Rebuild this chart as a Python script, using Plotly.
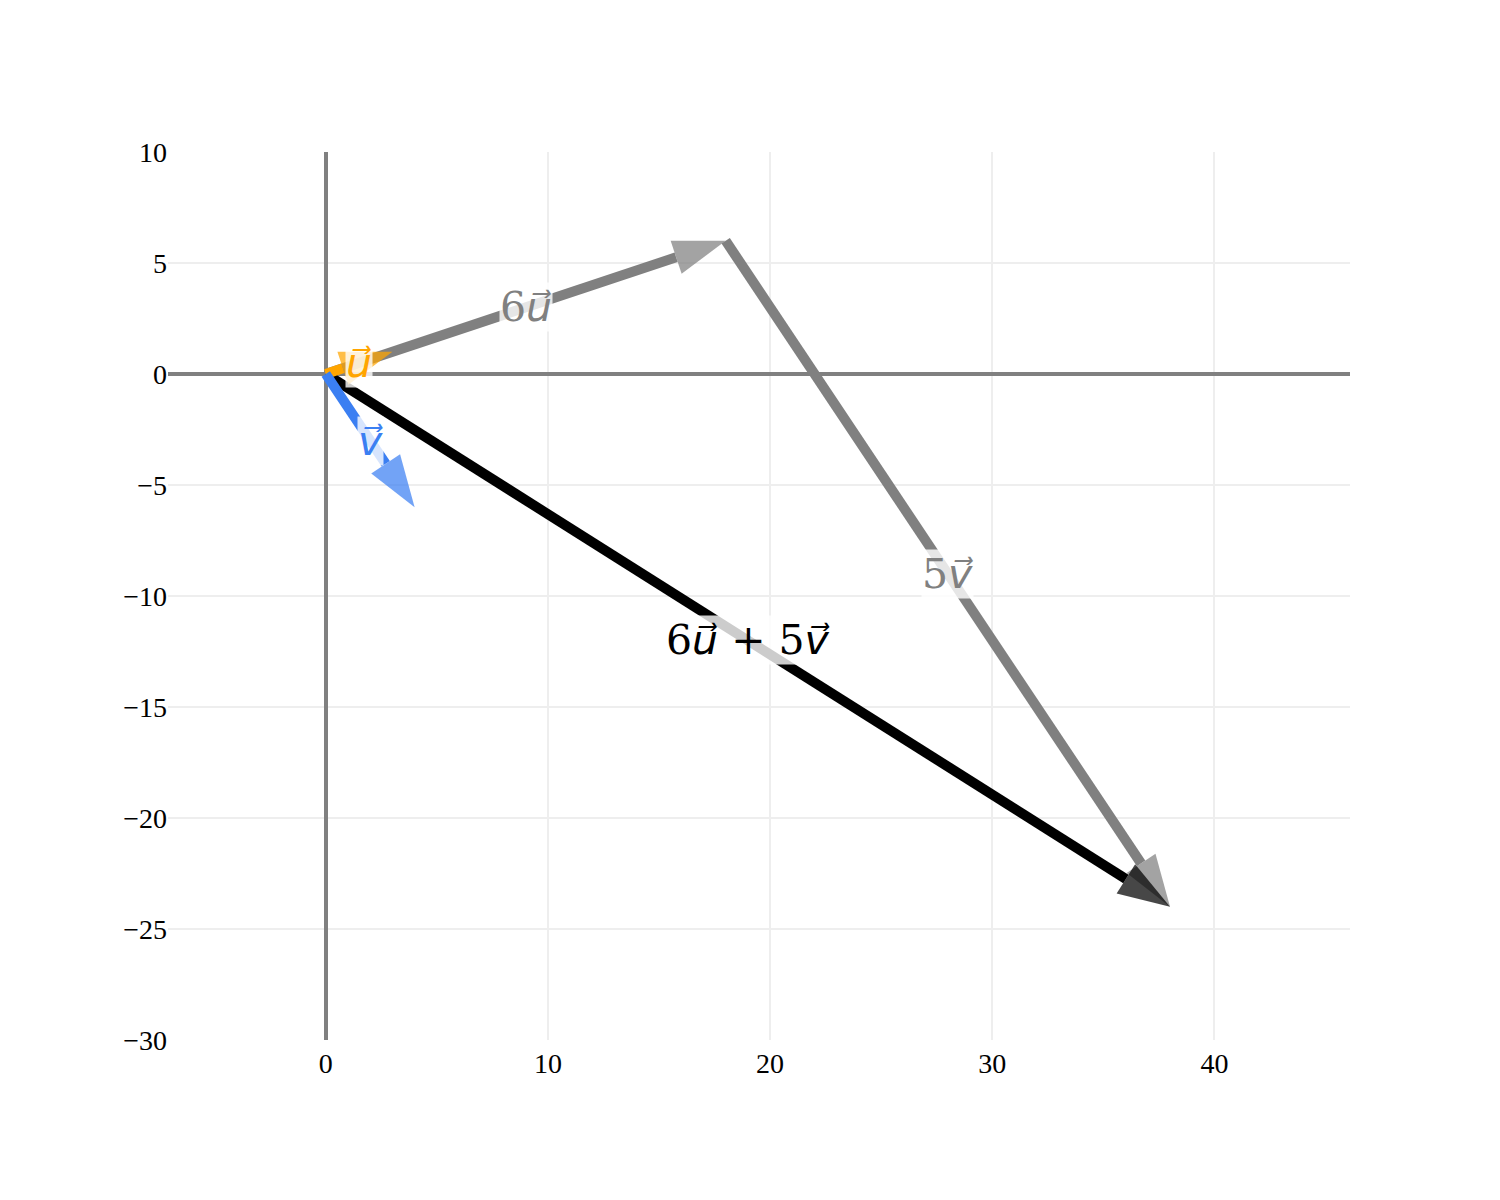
import numpy as np
import plotly.graph_objects as go

# vecteurs de base et coefficients
u = np.array([3, 1])
v = np.array([4, -6])
a = 6
b = 5

lettre = '<span style="font-family:DejaVu Sans"><i>{}⃗</i></span>'
U = lettre.format('u')
V = lettre.format('v')

# chaque flèche : départ, arrivée, couleur, étiquette
origine = np.array([0, 0])
fleches = [
    (origine, a * u, '#808080', f'{a}{U}'),
    (a * u, a * u + b * v, '#808080', f'{b}{V}'),
    (origine, a * u + b * v, '#000000', f'{a}{U} + {b}{V}'),
    (origine, u, '#FFA500', U),
    (origine, v, '#3b7ff2', V),
]

long_tete = 2.35   # longueur de la pointe (unités des axes)
demi_larg = 0.78

fig = go.Figure()

for debut, fin, couleur, _ in fleches:
    d = (fin - debut) / np.linalg.norm(fin - debut)
    n = np.array([-d[1], d[0]])
    base = fin - long_tete * d
    # le trait
    fig.add_trace(go.Scatter(x=[debut[0], base[0]], y=[debut[1], base[1]],
                             mode='lines', line=dict(color=couleur, width=10),
                             hoverinfo='skip', showlegend=False))
    # la pointe
    p1 = base + demi_larg * n
    p2 = base - demi_larg * n
    fig.add_trace(go.Scatter(x=[p1[0], fin[0], p2[0], p1[0]], y=[p1[1], fin[1], p2[1], p1[1]],
                             mode='lines', fill='toself', fillcolor=couleur,
                             line=dict(width=0, color=couleur), opacity=0.72,
                             hoverinfo='skip', showlegend=False))

for debut, fin, couleur, texte in fleches:
    milieu = (debut + fin) / 2
    fig.add_annotation(x=milieu[0], y=milieu[1], text=texte, showarrow=False,
                       font=dict(family='DejaVu Serif', size=41, color=couleur),
                       bgcolor='rgba(255,255,255,0.8)', borderpad=0)

fig.update_layout(
    width=1500, height=1200,
    margin=dict(l=160, r=158, t=144, b=168),
    plot_bgcolor='white', paper_bgcolor='white',
    font=dict(family='Liberation Serif', size=28, color='black'),
)
fig.update_xaxes(range=[-7.1, 46.1], dtick=10, showgrid=True, gridcolor='#eeeeee', gridwidth=2,
                 zeroline=True, zerolinecolor='#808080', zerolinewidth=4, ticks='', showline=False,
                 ticklabelstandoff=4)
fig.update_yaxes(range=[-30, 10], dtick=5, showgrid=True, gridcolor='#eeeeee', gridwidth=2,
                 zeroline=True, zerolinecolor='#808080', zerolinewidth=4, ticks='', showline=False)

fig.write_html('out.html')
